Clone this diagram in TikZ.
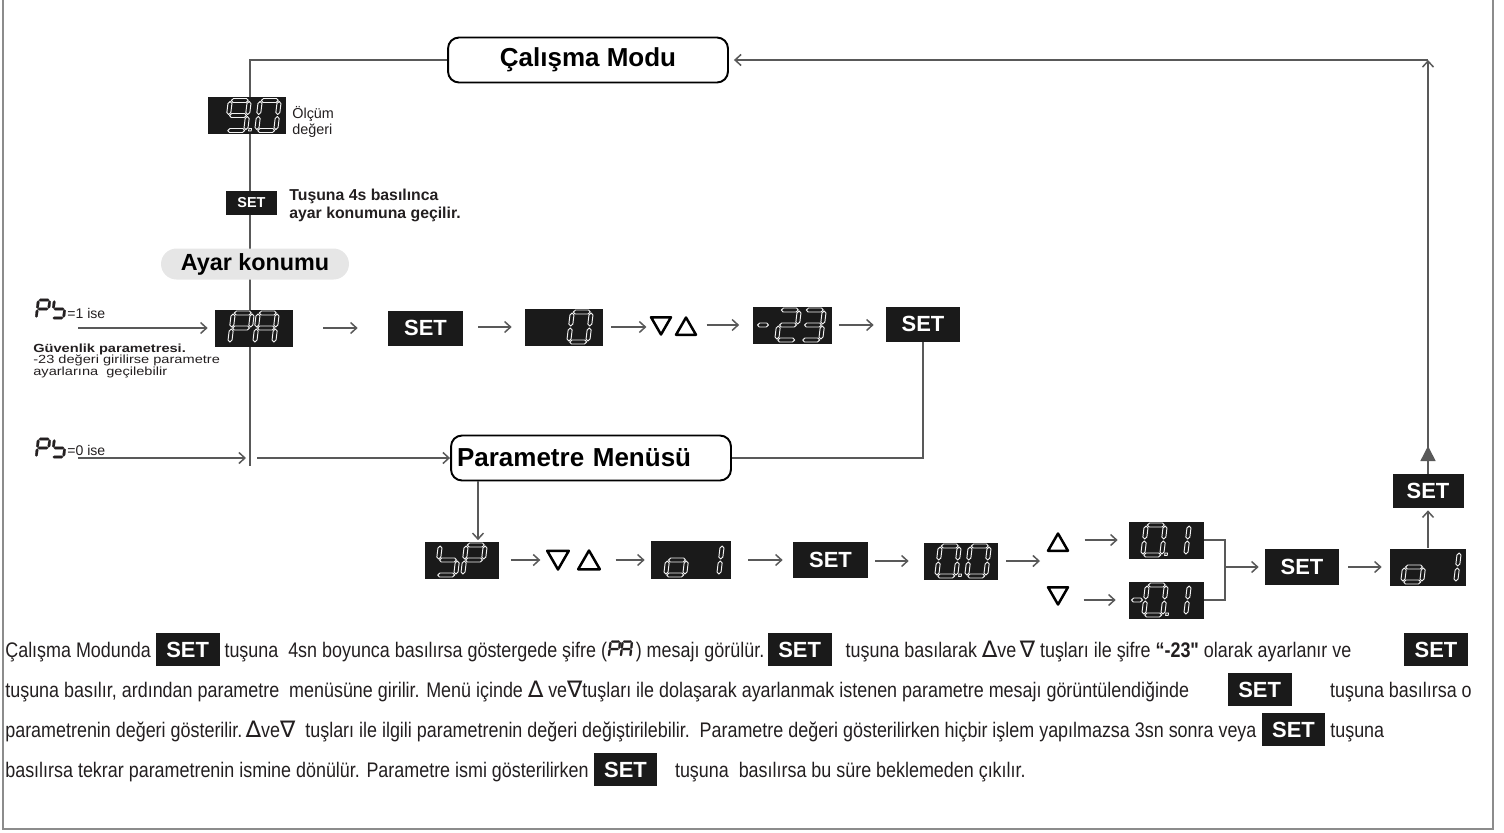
\documentclass[tikz,border=0pt]{standalone}
\usepackage{fontspec}
\setmainfont{Liberation Sans}
\newfontfamily\narrowfont[FakeStretch=0.85]{Liberation Sans}
\newfontfamily\widefont[FakeStretch=1.24]{Liberation Sans}
\newfontfamily\symfont{DejaVu Sans}
\usetikzlibrary{positioning,calc,arrows.meta,shapes.geometric,backgrounds}

\definecolor{dispblack}{HTML}{1A1A1A}
\definecolor{linegray}{HTML}{595959}
\definecolor{framegray}{HTML}{8C8C8C}
\definecolor{txtblack}{HTML}{231F20}
\definecolor{pillgray}{HTML}{E6E6E6}

% seven segment pieces (local units, y down)
\newcommand{\hsg}[3]{(#1+1,#3) -- (#1+3,#3-2) -- (#2-3,#3-2) -- (#2-1,#3) -- (#2-3,#3+2) -- (#1+3,#3+2) -- cycle}
\newcommand{\vsg}[3]{(#1,#2+1) -- (#1+2,#2+3) -- (#1+2,#3-3) -- (#1,#3-1) -- (#1-2,#3-3) -- (#1-2,#2+3) -- cycle}
\newcommand{\sega}{\hsg{-9.5}{9.5}{-15}}
\newcommand{\segb}{\vsg{9.5}{-15}{0}}
\newcommand{\segc}{\vsg{9.5}{0}{15}}
\newcommand{\segd}{\hsg{-9.5}{9.5}{15}}
\newcommand{\sege}{\vsg{-9.5}{0}{15}}
\newcommand{\segf}{\vsg{-9.5}{-15}{0}}
\newcommand{\segg}{\hsg{-9.5}{9.5}{0}}
\newcommand{\segm}{\hsg{-6.5}{6.5}{0}}
\newcommand{\segp}{(12.5,13) rectangle (15,15.5)}
\newcommand{\segpath}[1]{\path[segline] #1;}
\newcommand{\drawseg}[1]{\expandafter\segpath\csname seg#1\endcsname}

% inline key and arrows for the text
\newcommand{\keybox}{{\setlength{\fboxsep}{0pt}\colorbox{dispblack}{\rule[-5pt]{0pt}{18.7pt}\hspace{6pt}\textcolor{white}{\normalfont\bfseries\fontsize{12.5}{12.5}\selectfont SET}\hspace{6pt}}}}
\newcommand{\upt}{{\symfont\fontsize{13}{13}\selectfont ∆}}
\newcommand{\dnt}{{\symfont\fontsize{13}{13}\selectfont ∇}}

\tikzset{
  segline/.style={draw=white!90!gray, line width=0.55pt, line join=round},
  inkseg/.style={segline/.style={fill=txtblack, draw=txtblack, line width=0.15pt, line join=round}},
  pics/dig/.style={code={\begin{scope}[xslant=0.12]\foreach \s in {#1} {\drawseg{\s}}\end{scope}}}
}

\begin{document}
\begin{tikzpicture}[x=0.02cm, y=-0.02cm,
  disp/.style={fill=dispblack, minimum width=1.56cm, minimum height=0.74cm, inner sep=0pt},
  setkey/.style={fill=dispblack, text=white, inner sep=0pt, minimum width=1.5cm, minimum height=0.7cm, font=\bfseries\fontsize{12.5}{12.5}\selectfont},
  modebox/.style={draw=black, line width=1.1pt, rounded corners=0.22cm, minimum width=5.6cm, minimum height=0.9cm, inner sep=0pt, font=\bfseries\fontsize{14.8}{14.8}\selectfont},
  pill/.style={fill=pillgray, rounded corners=0.31cm, minimum width=3.76cm, minimum height=0.62cm, inner sep=0pt, font=\bfseries\fontsize{13.3}{13.3}\selectfont},
  wire/.style={draw=linegray, line width=0.03cm},
  flow/.style={wire, -{Straight Barb[length=0.12cm, width=0.22cm]}},
  filltip/.style={wire, -{Triangle[length=0.3cm, width=0.3cm]}},
  note/.style={anchor=west, align=left, inner sep=0pt, text=txtblack},
  para/.style={anchor=base west, inner sep=0pt, text=txtblack, font=\narrowfont\fontsize{12}{14}\selectfont},
  upkey/.style={regular polygon, regular polygon sides=3, draw=black, line width=0.05cm, line join=round, minimum size=0.46cm, inner sep=0pt},
  dnkey/.style={upkey, shape border rotate=180}]

    \useasboundingbox (0,0) rectangle (1504,832);

    % Frame
    \draw[framegray, line width=0.04cm] (3,0) -- (3,829) -- (1493,829) -- (1493,0);

    % Modes
    \node[modebox] (calisma) at (588,60) {Çalışma Modu};
    \node[modebox, align=left, text width=5.36cm, inner xsep=0.12cm] (pmenu) at (591,458) {Parametre Menüsü};
    \node[pill] (ayar) at (255,264) {Ayar konumu};

    % Measured value and entry key
    \node[disp] (olcum) at (247,115.5) {};
    \node[note, font=\fontsize{8.2}{9}\selectfont] (olcumtxt) at (292,122) {Ölçüm\\değeri};
    \node[setkey, minimum width=1.02cm, minimum height=0.48cm, font=\bfseries\fontsize{8.2}{8.2}\selectfont] (setlong) at (251.5,203) {SET};
    \node[note, font=\bfseries\fontsize{9}{10.2}\selectfont] (setlongtxt) at (289,205) {Tuşuna 4s basılınca\\ayar konumuna geçilir.};

    % Password row
    \node[disp] (pa) at (254,328) {};
    \node[setkey] (set1) at (425.5,328) {SET};
    \node[disp] (sifre0) at (564,327) {};
    \node[dnkey] (dn1) at (661,323) {};
    \node[upkey] (up1) at (686,329) {};
    \node[disp, minimum width=1.58cm] (sifre23) at (792,325) {};
    \node[setkey, minimum width=1.48cm] (set2) at (923,324) {SET};

    % Ps labels
    \pic[inkseg, scale=0.6] at (43,309) {dig={a,b,e,f,g}};
    \pic[inkseg, scale=0.6] at (59,309) {dig={c,d,f,g}};
    \node[note, anchor=base west, font=\fontsize{8}{8}\selectfont] (ps1txt) at (67,318) {=1 ise};
    \pic[inkseg, scale=0.6] at (43,448) {dig={a,b,e,f,g}};
    \pic[inkseg, scale=0.6] at (59,448) {dig={c,d,f,g}};
    \node[note, anchor=base west, font=\fontsize{8}{8}\selectfont] (ps0txt) at (67,455) {=0 ise};
    \node[note, anchor=base west, font=\widefont\bfseries\fontsize{6.7}{6.7}\selectfont] (guv1) at (33,352) {Güvenlik parametresi.};
    \node[note, anchor=base west, font=\widefont\fontsize{6.7}{6.7}\selectfont] (guv2) at (33,363.5) {-23 değeri girilirse parametre};
    \node[note, anchor=base west, font=\widefont\fontsize{6.7}{6.7}\selectfont] (guv3) at (33,375) {ayarlarına\ \ geçilebilir};

    % Parameter row
    \node[disp, minimum width=1.5cm] (sp) at (462,560) {};
    \node[dnkey, minimum size=0.5cm] (dn2) at (558,557) {};
    \node[upkey, minimum size=0.5cm] (up2) at (589,563) {};
    \node[disp, minimum width=1.6cm, minimum height=0.76cm] (oa) at (691,560) {};
    \node[setkey, minimum height=0.72cm] (set4) at (830.5,560) {SET};
    \node[disp, minimum width=1.48cm] (val0) at (961,561) {};
    \node[upkey] (upk) at (1058,545) {};
    \node[dnkey] (dnk) at (1058,593) {};
    \node[disp, minimum width=1.5cm] (valp) at (1166,540) {};
    \node[disp, minimum width=1.5cm] (valm) at (1166,600) {};
    \node[setkey, minimum width=1.48cm, minimum height=0.72cm] (set5) at (1302,567) {SET};
    \node[disp, minimum width=1.52cm] (ob) at (1428,567) {};
    \node[setkey, minimum width=1.42cm, minimum height=0.68cm] (set6) at (1428,491) {SET};

    % Segment digits
    \pic at ($(olcum)+(-9,0)$) {dig={a,b,c,d,f,g,p}};
    \pic at ($(olcum)+(21,0)$) {dig={a,b,c,d,e,f}};
    \pic at ($(pa)+(-13,0)$) {dig={a,b,e,f,g}};
    \pic at ($(pa)+(12,0)$) {dig={a,b,c,e,f,g}};
    \pic at ($(sifre0)+(16,0)$) {dig={a,b,c,d,e,f}};
    \pic at ($(sifre23)+(-29,0)$) {dig={m}};
    \pic at ($(sifre23)+(-4,0)$) {dig={a,b,g,e,d}};
    \pic at ($(sifre23)+(21,0)$) {dig={a,b,g,c,d}};
    \pic at ($(sp)+(-14,0)$) {dig={c,d,f,g}};
    \pic at ($(sp)+(12,0)$) {dig={a,b,e,f,g}};
    \pic at ($(oa)+(-14,0)$) {dig={c,d,e,g}};
    \pic at ($(oa)+(20,0)$) {dig={b,c}};
    \pic at ($(val0)+(-13,0)$) {dig={a,b,c,d,e,f,p}};
    \pic at ($(val0)+(17,0)$) {dig={a,b,c,d,e,f}};
    \pic at ($(valp)+(-12,0)$) {dig={a,b,c,d,e,f,p}};
    \pic at ($(valp)+(12,0)$) {dig={b,c}};
    \pic at ($(valm)+(-29,0)$) {dig={m}};
    \pic at ($(valm)+(-11,0)$) {dig={a,b,c,d,e,f,p}};
    \pic at ($(valm)+(12,0)$) {dig={b,c}};
    \pic at ($(ob)+(-14,0)$) {dig={c,d,e,g}};
    \pic at ($(ob)+(20,0)$) {dig={b,c}};

    % Helper points
    \coordinate (vend) at (250,466);
    \coordinate (junc) at (250,458);
    \coordinate (ps1) at (78,328);
    \coordinate (ps0) at (78,458);
    \coordinate (drop) at (478,0);
    \coordinate (fork) at (1040,561);
    \coordinate (join) at (1225,567);
    \coordinate (tri) at (1428,446);
    \coordinate (ctop) at (1428,60);

    % Main vertical line
    \begin{scope}[on background layer]
        \draw[wire] (calisma.west) -| (vend);
    \end{scope}

    % Arrows between keys and displays
    \foreach \a/\b/\r/\s/\e in {pa/set1/set1/0.6/0.6, set1/sifre0/sifre0/0.3/0.26,
        sifre0/dn1/sifre0/0.16/0.13, up1/sifre23/sifre23/0.25/0.26, sifre23/set2/sifre23/0.14/0.24,
        sp/dn2/sp/0.22/0.18, up2/oa/oa/0.36/0.12, oa/set4/oa/0.34/0.2, set4/val0/val0/0.14/0.3,
        upk/valp/valp/0.37/0.21, dnk/valm/valm/0.35/0.25, set5/ob/ob/0.18/0.16}
        \draw[flow, shorten <=\s cm, shorten >=\e cm] (\a.east |- \r) -- (\b.west |- \r);

    \draw[flow, shorten >=0.14cm] (ps1) -- (pa.west);
    \draw[flow, shorten >=0.08cm] (ps0) -- (junc);
    \draw[flow, shorten <=0.14cm] (junc) -- (pmenu.west);
    \draw[wire] (set2.south) |- (pmenu.east);
    \draw[flow, shorten >=0.02cm] (pmenu.south -| drop) -- (sp.north -| drop);
    \draw[flow, shorten <=0.16cm] (val0.east) -- (fork);
    \draw[wire] (valp.east) -| (join) |- (valm.east);
    \draw[flow, shorten >=0.12cm] (join) -- (set5.west);
    \draw[flow, shorten >=0.04cm] (ob.north) -- (set6.south);
    \draw[flow] (set6.north) -- (ctop);
    \draw[filltip] (set6.north) -- (tri);
    \draw[flow, shorten >=0.1cm] (ctop) -- (calisma.east);

    % Explanation text
    \node[para] (l1a) at (5,657) {Çalışma Modunda \keybox\ tuşuna\ \ 4sn boyunca basılırsa göstergede şifre (};
    \pic[inkseg, scale=0.5] at ($(l1a.base east)+(7,-8)$) {dig={a,b,e,f,g}};
    \pic[inkseg, scale=0.5] at ($(l1a.base east)+(19,-8)$) {dig={a,b,c,e,f,g}};
    \node[para] (l1b) at ($(l1a.base east)+(28,0)$) {) mesajı görülür.\,\keybox\hspace{8pt}tuşuna basılarak \upt ve\,\dnt\ tuşları ile şifre \textbf{“-23"} olarak ayarlanır ve\hspace{30pt}\keybox};
    \node[para] (l2) at (5,697) {tuşuna basılır, ardından parametre\ \ menüsüne girilir. Menü içinde \upt\ ve\dnt tuşları ile dolaşarak ayarlanmak istenen parametre mesajı görüntülendiğinde\hspace{22pt}\keybox\hspace{22pt}tuşuna basılırsa o};
    \node[para] (l3) at (5,737) {parametrenin değeri gösterilir.\,\upt ve\dnt\ \ tuşları ile ilgili parametrenin değeri değiştirilebilir.\ \ Parametre değeri gösterilirken hiçbir işlem yapılmazsa 3sn sonra veya \keybox\ tuşuna};
    \node[para] (l4) at (5,777) {basılırsa tekrar parametrenin ismine dönülür. Parametre ismi gösterilirken \keybox\hspace{10pt}tuşuna\ \ basılırsa bu süre beklemeden çıkılır.};

\end{tikzpicture}
\end{document}
